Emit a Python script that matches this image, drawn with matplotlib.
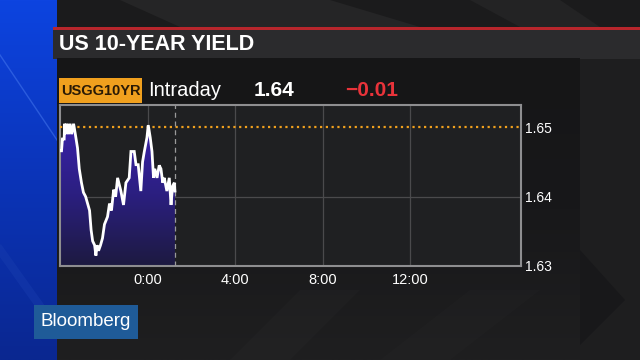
import numpy as np
import matplotlib
matplotlib.use("Agg")
import matplotlib.pyplot as plt
from matplotlib.colors import LinearSegmentedColormap
from matplotlib.patches import Rectangle, Polygon

# ---------------- data ----------------
hours = [-4.00, -3.93, -3.89, -3.81, -3.79, -3.73, -3.68, -3.61, -3.54, -3.47,
         -3.38, -3.29, -3.20, -3.12, -3.02, -2.93, -2.83, -2.74, -2.65, -2.58,
         -2.51, -2.42, -2.36, -2.31, -2.24, -2.15, -2.06, -1.97, -1.83, -1.74,
         -1.65, -1.55, -1.46, -1.37, -1.22, -1.10, -0.99, -0.84, -0.76, -0.61,
         -0.53, -0.43, -0.31, -0.23, -0.15, -0.03, 0.03, 0.12, 0.20, 0.27,
         0.33, 0.43, 0.53, 0.61, 0.69, 0.76, 0.88, 0.99, 1.07, 1.14, 1.22, 1.25]
yields = [1.6466, 1.6466, 1.6483, 1.6483, 1.6505, 1.6490, 1.6505, 1.6490, 1.6505, 1.6490,
          1.6505, 1.6488, 1.6470, 1.6440, 1.6420, 1.6406, 1.6400, 1.6390, 1.6380, 1.6352,
          1.6336, 1.6330, 1.6315, 1.6330, 1.6322, 1.6330, 1.6340, 1.6360, 1.6371, 1.6390,
          1.6380, 1.6410, 1.6400, 1.6427, 1.6408, 1.6388, 1.6420, 1.6427, 1.6465, 1.6465,
          1.6446, 1.6446, 1.6408, 1.6450, 1.6465, 1.6485, 1.6503, 1.6485, 1.6465, 1.6427,
          1.6440, 1.6427, 1.6445, 1.6440, 1.6420, 1.6427, 1.6408, 1.6427, 1.6388, 1.6415,
          1.6420, 1.6408]
prev_close = 1.65
now_hour = 1.25
xtick_pos = [0, 4, 8, 12]
xtick_labels = ["0:00", "4:00", "8:00", "12:00"]
ytick_pos = [1.63, 1.64, 1.65]
ytick_labels = ["1.63", "1.64", "1.65"]
title = "US 10-YEAR YIELD"
ticker = "USGG10YR"
period = "Intraday"
last_value = "1.64"
change = "\u22120.01"

FONT = ["Liberation Sans", "DejaVu Sans"]

# ---------------- figure ----------------
fig = plt.figure(figsize=(6.4, 3.6), dpi=100)
fig.patch.set_facecolor("#1b1b1c")

bg = fig.add_axes([0, 0, 1, 1], zorder=0)
bg.axis("off")

# background diagonal shapes (top strip / right side)
bg.add_patch(Polygon([[120, 0], [330, 0], [420, 27], [180, 27]], closed=True,
                     facecolor="#252526", edgecolor="none"))
bg.add_patch(Polygon([[470, 0], [560, 0], [600, 27], [520, 27]], closed=True,
                     facecolor="#232324", edgecolor="none"))
bg.add_patch(Polygon([[580, 58], [640, 58], [640, 360], [580, 360]], closed=True,
                     facecolor="#1e1e1f", edgecolor="none"))
bg.add_patch(Polygon([[580, 250], [625, 300], [580, 345]], closed=True,
                     facecolor="#18181a", edgecolor="none"))

# left blue strip
blue = LinearSegmentedColormap.from_list("b", ["#0d44e0", "#0b34b8", "#0a2790"])
grad = np.linspace(0, 1, 256).reshape(-1, 1)
bg.imshow(grad, extent=[0, 57, 360, 0], cmap=blue, aspect="auto", zorder=1)
bg.plot([0, 57], [55, 140], color="#4a7cf0", lw=1.0, alpha=0.5, zorder=2)
bg.plot([0, 57], [250, 330], color="#1a3fb0", lw=6, alpha=0.4, zorder=2)

# title bar
bg.add_patch(Rectangle((53, 27), 587, 3, facecolor="#b8262c", edgecolor="none", zorder=3))
bg.add_patch(Rectangle((53, 30), 587, 28.5, facecolor="#2b2b2d", edgecolor="none", zorder=3))
bg.text(59, 44, title, color="white", fontsize=15.5, fontweight="bold",
        family=FONT, va="center", ha="left", zorder=4)

# dark panel with subtle gradient toward the bottom
panel = LinearSegmentedColormap.from_list("p", ["#161617", "#18181a", "#1f1f20"])
bg.imshow(grad, extent=[57, 580, 360, 58.5], cmap=panel, aspect="auto", zorder=3)
bg.add_patch(Polygon([[230, 360], [300, 290], [360, 290], [290, 360]], closed=True,
                     facecolor="#2a2a2b", edgecolor="none", alpha=0.25, zorder=3))
bg.add_patch(Polygon([[380, 360], [470, 290], [540, 290], [450, 360]], closed=True,
                     facecolor="#2a2a2b", edgecolor="none", alpha=0.18, zorder=3))

# header row
bg.add_patch(Rectangle((59, 78), 83, 25, facecolor="#f0a01e", edgecolor="none", zorder=4))
bg.text(100.5, 91, ticker, color="#2a1a05", fontsize=10.5, fontweight="bold",
        family=FONT, va="center", ha="center", zorder=5)
bg.text(148, 90.5, period, color="white", fontsize=14.5,
        family=FONT, va="center", ha="left", zorder=5)
bg.text(254, 91, last_value, color="white", fontsize=15, fontweight="bold",
        family=FONT, va="center", ha="left", zorder=5)
bg.text(345, 91, change, color="#e8333a", fontsize=15, fontweight="bold",
        family=FONT, va="center", ha="left", zorder=5)

# Bloomberg logo
bg.add_patch(Rectangle((34, 305), 104, 34, facecolor="#1f5b98", edgecolor="none", zorder=4))
bg.text(86, 322, "Bloomberg", color="white", fontsize=13.5,
        family=FONT, va="center", ha="center", zorder=5)

bg.set_xlim(0, 640)
bg.set_ylim(360, 0)

# ---------------- chart axes ----------------
left, right, top, bottom = 60, 521, 105, 266
ax = fig.add_axes([left / 640, 1 - bottom / 360, (right - left) / 640, (bottom - top) / 360], zorder=2)
ax.set_facecolor("#1f2022")
ymin, ymax = 1.63, 1.6532

for x in xtick_pos:
    ax.axvline(x, color="#4a4a4c", lw=0.9, zorder=1)
ax.axhline(1.64, color="#4a4a4c", lw=0.9, zorder=1)

# gradient fill under line
poly = ax.fill_between(hours, yields, ymin, facecolor="none", edgecolor="none")
fillcmap = LinearSegmentedColormap.from_list("f", ["#1d1a40", "#2b1f80", "#3b22aa"])
img = ax.imshow(np.linspace(0, 1, 256).reshape(-1, 1), extent=[-4, now_hour, ymin, 1.6505],
                origin="lower", cmap=fillcmap, aspect="auto", zorder=2)
img.set_clip_path(poly.get_paths()[0], transform=ax.transData)

ax.plot(hours, yields, color="white", lw=2.0, zorder=4, solid_joinstyle="miter")
ax.axhline(prev_close, color="#f0a01e", lw=1.6, ls=(0, (1, 1.6)), zorder=3)
ax.axvline(now_hour, color="#9a9a9a", lw=0.9, ls=(0, (4, 3)), zorder=3)

ax.set_xlim(-4, 17.05)
ax.set_ylim(ymin, ymax)

for s in ax.spines.values():
    s.set_color("#8e8e90")
    s.set_linewidth(1.5)

ax.set_xticks(xtick_pos)
ax.set_xticklabels(xtick_labels)
ax.set_yticks(ytick_pos)
ax.set_yticklabels(ytick_labels)
ax.yaxis.tick_right()
ax.tick_params(axis="both", length=0, colors="white", labelsize=10.5)
ax.tick_params(axis="x", pad=5)
ax.tick_params(axis="y", pad=3, labelsize=10)
for lab in ax.get_xticklabels() + ax.get_yticklabels():
    lab.set_family(FONT)

fig.savefig("out.png", dpi=100, facecolor=fig.get_facecolor())
